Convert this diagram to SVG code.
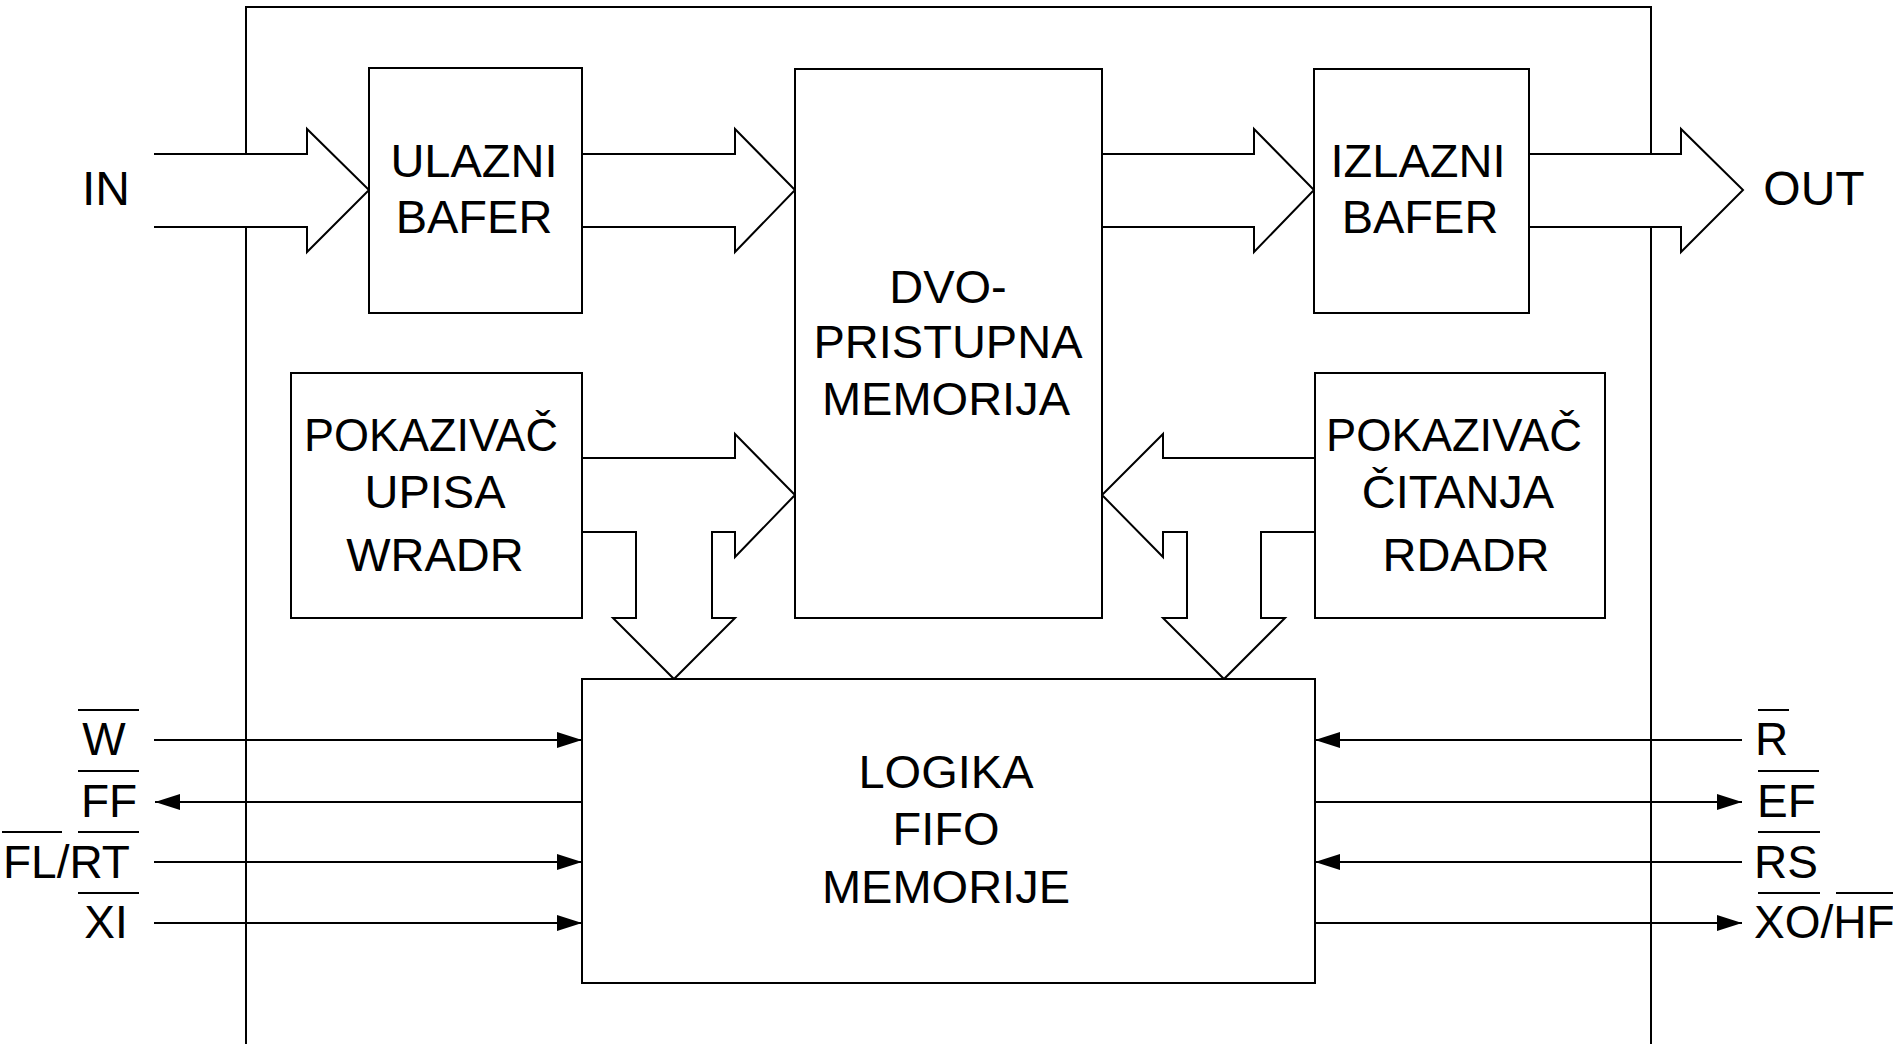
<svg xmlns="http://www.w3.org/2000/svg" width="1893" height="1044" viewBox="0 0 1893 1044">
<style>
.box{fill:#fff;stroke:#000;stroke-width:2}
.bus{fill:none;stroke:#000;stroke-width:2;stroke-linejoin:miter}
.sig{fill:none;stroke:#000;stroke-width:2}
.frame{fill:none;stroke:#000;stroke-width:2}
.ov{stroke:#000;stroke-width:2}
text{font-family:"Liberation Sans",Arial,sans-serif;fill:#000}
.t{font-size:47px;text-anchor:middle}
.io{font-size:48px;text-anchor:middle}
.lab{font-size:46px}
</style>
<defs>
<marker id="ah" markerUnits="userSpaceOnUse" markerWidth="26" markerHeight="16" refX="25" refY="8" orient="auto">
<path d="M0,0 L25,8 L0,16 z" fill="#000"/>
</marker>
</defs>
<rect width="1893" height="1044" fill="#fff"/>
<g id="frame">
<path class="frame" d="M246,1044 V227 M246,154 V7 H1651 V154 M1651,227 V1044"/>
</g>
<g id="connectors">
<path class="bus" d="M154,154 H307 V129 L369,190 L307,252 V227 H154"/>
<path class="bus" d="M582,154 H735 V129 L795,190 L735,252 V227 H582"/>
<path class="bus" d="M1102,154 H1254 V129 L1314,190 L1254,252 V227 H1102"/>
<path class="bus" d="M1529,154 H1681 V129 L1743,190 L1681,252 V227 H1529"/>
<path class="bus" d="M582,458 H735 V434 L795,495 L735,557 V532 H712 V618 H735 L674,679 L613,618 H636 V532 H582"/>
<path class="bus" d="M1315,458 H1163 V434 L1102,495 L1163,557 V532 H1187 V618 H1163 L1224,679 L1285,618 H1261 V532 H1315"/>
<path class="sig" d="M154,740 H582" marker-end="url(#ah)"/>
<path class="sig" d="M582,802 H155" marker-end="url(#ah)"/>
<path class="sig" d="M154,862 H582" marker-end="url(#ah)"/>
<path class="sig" d="M154,923 H582" marker-end="url(#ah)"/>
<path class="sig" d="M1742,740 H1315" marker-end="url(#ah)"/>
<path class="sig" d="M1315,802 H1742" marker-end="url(#ah)"/>
<path class="sig" d="M1742,862 H1315" marker-end="url(#ah)"/>
<path class="sig" d="M1315,923 H1742" marker-end="url(#ah)"/>
</g>
<g id="ulazni">
<rect class="box" x="369" y="68" width="213" height="245"/>
<text class="t" x="474" y="177">ULAZNI</text>
<text class="t" x="474" y="233">BAFER</text>
</g>
<g id="dvopristupna">
<rect class="box" x="795" y="69" width="307" height="549"/>
<text class="t" x="948" y="303">DVO-</text>
<text class="t" x="948" y="358">PRISTUPNA</text>
<text class="t" x="946" y="415">MEMORIJA</text>
</g>
<g id="izlazni">
<rect class="box" x="1314" y="69" width="215" height="244"/>
<text class="t" x="1418" y="177">IZLAZNI</text>
<text class="t" x="1420" y="233">BAFER</text>
</g>
<g id="pokazivac-upisa">
<rect class="box" x="291" y="373" width="291" height="245"/>
<text class="t" x="431" y="451" textLength="254" lengthAdjust="spacingAndGlyphs">POKAZIVAČ</text>
<text class="t" x="435" y="508">UPISA</text>
<text class="t" x="435" y="571">WRADR</text>
</g>
<g id="pokazivac-citanja">
<rect class="box" x="1315" y="373" width="290" height="245"/>
<text class="t" x="1454" y="451" textLength="256" lengthAdjust="spacingAndGlyphs">POKAZIVAČ</text>
<text class="t" x="1458" y="508">ČITANJA</text>
<text class="t" x="1466" y="571">RDADR</text>
</g>
<g id="logika">
<rect class="box" x="582" y="679" width="733" height="304"/>
<text class="t" x="946" y="788">LOGIKA</text>
<text class="t" x="946" y="845">FIFO</text>
<text class="t" x="946" y="903">MEMORIJE</text>
</g>
<g id="io-labels">
<text class="io" x="106" y="205">IN</text>
<text class="io" x="1814" y="205">OUT</text>
</g>
<g id="signal-labels">
<text class="lab" x="104" y="755" text-anchor="middle">W</text>
<line class="ov" x1="78" y1="710" x2="139" y2="710"/>
<text class="lab" x="109" y="817" text-anchor="middle">FF</text>
<line class="ov" x1="78" y1="771" x2="139" y2="771"/>
<text class="lab" x="3" y="878">FL/RT</text>
<line class="ov" x1="2" y1="832" x2="62" y2="832"/>
<line class="ov" x1="78" y1="832" x2="139" y2="832"/>
<text class="lab" x="106" y="938" text-anchor="middle">XI</text>
<line class="ov" x1="78" y1="893" x2="139" y2="893"/>
<text class="lab" x="1755" y="755">R</text>
<line class="ov" x1="1758" y1="710" x2="1789" y2="710"/>
<text class="lab" x="1757" y="817">EF</text>
<line class="ov" x1="1758" y1="771" x2="1819" y2="771"/>
<text class="lab" x="1754" y="878">RS</text>
<line class="ov" x1="1758" y1="832" x2="1820" y2="832"/>
<text class="lab" x="1754" y="938">XO/HF</text>
<line class="ov" x1="1758" y1="893" x2="1820" y2="893"/>
<line class="ov" x1="1836" y1="893" x2="1893" y2="893"/>
</g>
</svg>
